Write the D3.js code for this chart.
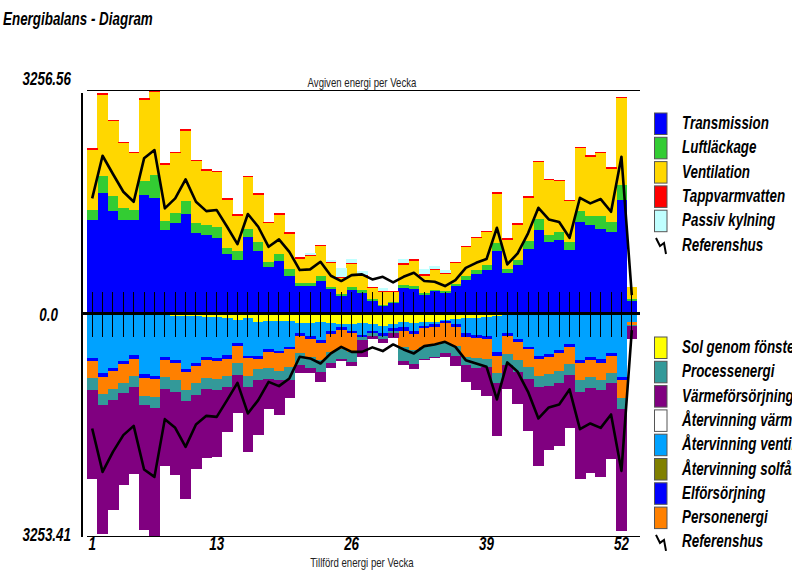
<!DOCTYPE html>
<html><head><meta charset="utf-8">
<script src="https://cdn.jsdelivr.net/npm/d3@7/dist/d3.min.js"></script>
<style>body{margin:0;background:#fff}svg{display:block}</style>
</head><body><svg id="c" width="801" height="575"></svg>
<script>
// ---------- DATA ----------
const weeks = d3.range(1, 54);
const tickWeeks = [1, 13, 26, 39, 52];
const yTop = 3256.56, yBottom = -3253.41;

// Avgiven energi (upward)
const transmission = [1362,1751,1493,1362,1362,1727,1687,1217,1323,1450,1177,1144,1104,863,779,1119,915,682,765,546,405,405,474,357,259,342,303,186,114,157,376,357,270,328,303,405,488,576,634,911,594,707,940,1217,1046,1071,925,1338,1289,1231,1192,1654,186];
const luftlackage = [146,252,219,179,146,208,331,131,146,189,146,150,160,96,131,112,122,68,102,102,44,44,73,34,29,44,39,25,10,15,39,44,25,15,25,20,58,58,73,112,54,73,117,160,98,117,121,156,131,189,146,219,20];
const ventilation = [879,1185,1087,937,825,1181,1204,821,864,1025,894,787,792,700,515,757,694,567,573,515,350,384,432,344,228,334,199,159,188,140,296,369,257,286,242,305,417,461,475,723,427,515,631,825,796,738,588,912,864,912,773,1262,184];
const tappvarmvatten = [20,20,20,20,20,20,20,20,20,20,20,20,20,20,20,20,20,20,20,20,20,20,20,20,20,20,20,20,20,20,20,20,20,20,20,20,20,20,20,20,20,20,20,20,20,20,20,20,20,20,20,20,0];
const passivKylning = [0,0,0,0,0,0,0,0,0,0,0,0,0,0,0,0,0,0,0,0,0,25,0,25,122,54,58,0,35,0,63,0,77,44,44,0,0,0,0,0,0,0,0,0,0,0,0,0,0,0,0,0,0];
const referensUp = [1678,2299,2033,1775,1629,2261,2382,1533,1678,1955,1629,1493,1508,1265,1013,1450,1265,973,1081,900,634,644,755,551,474,561,571,498,536,455,536,594,474,463,401,488,667,740,794,1250,717,877,1169,1541,1372,1333,1104,1687,1606,1668,1483,2285,270];

// Tillförd energi (downward)
const solGenomFonster = [7,7,7,7,7,7,7,7,29,29,36,44,44,58,87,58,117,102,102,102,131,131,117,131,146,146,131,146,175,146,117,131,117,117,87,73,58,58,44,29,7,7,7,7,7,7,7,7,7,7,7,7,7];
const atervinningVent = [645,855,782,685,597,874,903,631,648,779,689,594,609,546,347,561,503,420,444,382,157,197,270,124,47,109,182,105,105,61,76,124,61,41,17,80,230,255,284,527,272,364,476,612,583,525,437,670,631,660,573,922,112];
const elforsorjning = [39,58,44,44,58,54,44,39,44,39,39,39,39,58,39,34,34,35,34,38,39,44,39,48,48,34,34,38,44,44,58,48,38,35,38,39,50,39,44,58,44,39,38,39,39,48,39,39,39,50,39,39,0];
const personenergi = [252,252,267,272,248,262,267,252,248,267,252,267,262,248,243,258,146,242,258,254,252,258,252,254,281,277,0,0,0,0,233,229,268,267,287,281,291,300,291,248,267,267,254,248,252,258,252,252,252,252,252,267,48];
const processenergi = [170,160,160,154,165,136,152,175,170,156,170,160,160,165,179,165,160,160,131,184,170,169,170,169,146,137,39,39,48,30,208,204,184,170,146,146,121,146,121,154,160,170,179,169,175,179,160,170,160,146,146,156,15];
const varmeforsorjning = [1297,1880,1593,1336,1263,1821,1869,1113,1214,1432,1078,1005,972,656,558,938,812,423,510,268,112,64,146,64,15,58,243,48,63,73,58,73,10,23,54,146,243,316,414,763,354,471,753,1142,932,914,768,1272,1238,1263,1103,1773,189];
const atervinningVarme = [0,0,0,0,0,0,0,0,0,0,0,0,0,0,0,0,0,0,0,0,0,0,0,0,0,0,0,0,0,0,0,0,0,0,0,0,0,0,0,0,0,0,0,0,0,0,0,0,0,0,0,0,0];
const atervinningSolf = [0,0,0,0,0,0,0,0,0,0,0,0,0,0,0,0,0,0,0,0,0,0,0,0,0,0,0,0,0,0,0,0,0,0,0,0,0,0,0,0,0,0,0,0,0,0,0,0,0,0,0,0,0];
const referensDown = [1673,2305,2014,1770,1635,2270,2378,1537,1664,1941,1614,1489,1504,1260,1008,1454,1260,994,1056,944,629,653,726,580,484,557,557,492,546,449,522,580,474,449,411,484,678,726,775,1250,711,848,1139,1527,1367,1323,1104,1683,1600,1664,1469,2290,240];

// series definitions (legend order) + stack order
const upSeries = [
  {key:"Transmission", vals:transmission, color:"#0000FF"},
  {key:"Luftläckage", vals:luftlackage, color:"#33CC33"},
  {key:"Ventilation", vals:ventilation, color:"#FFD700"},
  {key:"Tappvarmvatten", vals:tappvarmvatten, color:"#FF0000"},
  {key:"Passiv kylning", vals:passivKylning, color:"#C0FFFF"}
];
const downLegend = [
  {key:"Sol genom fönster", vals:solGenomFonster, color:"#FFFF00"},
  {key:"Processenergi", vals:processenergi, color:"#339999"},
  {key:"Värmeförsörjning", vals:varmeforsorjning, color:"#800080"},
  {key:"Återvinning värmepump", vals:atervinningVarme, color:"#FFFFFF"},
  {key:"Återvinning ventilation", vals:atervinningVent, color:"#00A2FF"},
  {key:"Återvinning solfångare", vals:atervinningSolf, color:"#808000"},
  {key:"Elförsörjning", vals:elforsorjning, color:"#0000FF"},
  {key:"Personenergi", vals:personenergi, color:"#FF8000"}
];
const downStackOrder = ["Sol genom fönster","Återvinning ventilation","Elförsörjning","Personenergi","Processenergi","Värmeförsörjning","Återvinning värmepump","Återvinning solfångare"];

// ---------- DRAW ----------
const svg = d3.select("#c");
const FB = '"Liberation Sans Narrow","Arial Narrow","Liberation Sans",Arial,sans-serif';

const x = d3.scaleBand().domain(weeks).range([87, 637]).padding(0);
const y = d3.scaleLinear().domain([yBottom, yTop]).range([537, 90]);
const bw = x.bandwidth();
const y0 = y(0);

// text scale factors (measure condensed look)
function measure(txt, size, weight, style){
  const t = svg.append("text").attr("font-family",FB).attr("font-size",size)
    .attr("font-weight",weight).attr("font-style",style).text(txt);
  const w = t.node().getComputedTextLength(); t.remove(); return w;
}
const sB = 87 / measure("Transmission", 19, "bold", "italic");
const sN = 109 / measure("Avgiven energi per Vecka", 13, "normal", "normal");
function label(parent, txt, px, py, anchor, bold, fill){
  const g = parent.append("g").attr("transform", `translate(${px},${py}) scale(${bold?sB:sN},1)`);
  return g.append("text").attr("text-anchor", anchor)
    .attr("font-family", FB).attr("font-size", bold?19:13)
    .attr("font-weight", bold?"bold":"normal").attr("font-style", bold?"italic":"normal")
    .attr("fill", fill || (bold?"#000":"#222")).text(txt);
}

// rows
const rowsUp = weeks.map((w,i)=>{const r={week:w}; upSeries.forEach(s=>r[s.key]=s.vals[i]); return r;});
const rowsDown = weeks.map((w,i)=>{const r={week:w}; downLegend.forEach(s=>r[s.key]=s.vals[i]); return r;});
const stUp = d3.stack().keys(upSeries.map(s=>s.key))(rowsUp);
const stDown = d3.stack().keys(downStackOrder)(rowsDown);
const colorOf = {}; upSeries.forEach(s=>colorOf["u"+s.key]=s.color); downLegend.forEach(s=>colorOf["d"+s.key]=s.color);

const bars = svg.append("g").attr("shape-rendering","crispEdges");
bars.selectAll("g.up").data(stUp).join("g").attr("fill", d=>colorOf["u"+d.key])
  .selectAll("rect").data(d=>d).join("rect")
  .attr("x", d=>x(d.data.week)).attr("width", bw+0.4)
  .attr("y", d=>y(d[1])).attr("height", d=>Math.max(0, y(d[0])-y(d[1])));
bars.selectAll("g.dn").data(stDown).join("g").attr("fill", d=>colorOf["d"+d.key])
  .selectAll("rect").data(d=>d).join("rect")
  .attr("x", d=>x(d.data.week)).attr("width", bw+0.4)
  .attr("y", d=>y(-d[0])).attr("height", d=>Math.max(0, y(-d[1])-y(-d[0])));

// frame lines
svg.append("line").attr("x1",87).attr("x2",640).attr("y1",90.5).attr("y2",90.5).attr("stroke","#000").attr("stroke-width",1);
svg.append("line").attr("x1",87).attr("x2",640).attr("y1",536.5).attr("y2",536.5).attr("stroke","#000").attr("stroke-width",1);
svg.append("line").attr("x1",82).attr("x2",82).attr("y1",93).attr("y2",537).attr("stroke","#000").attr("stroke-width",2);

// week ticks crossing zero line
const tickAxis = d3.axisBottom(x).tickSize(45).tickFormat("");
const tg = svg.append("g").attr("transform",`translate(0,${y0-22})`).call(tickAxis);
tg.select(".domain").remove();
tg.selectAll(".tick line").attr("stroke","#000").attr("stroke-width",1).attr("shape-rendering","crispEdges");

// zero line
svg.append("line").attr("x1",82).attr("x2",640).attr("y1",y0).attr("y2",y0).attr("stroke","#000").attr("stroke-width",3);

// reference lines
const lineUp = d3.line().x((d,i)=>x(weeks[i])+bw/2).y(d=>y(d));
const lineDn = d3.line().x((d,i)=>x(weeks[i])+bw/2).y(d=>y(-d));
svg.append("path").attr("d", lineUp(referensUp)).attr("fill","none").attr("stroke","#000").attr("stroke-width",2.6).attr("stroke-linejoin","round");
svg.append("path").attr("d", lineDn(referensDown)).attr("fill","none").attr("stroke","#000").attr("stroke-width",2.6).attr("stroke-linejoin","round");

// texts
label(svg, "Energibalans - Diagram", 3, 25, "start", true);
label(svg, d3.format(".2f")(yTop), 71, 85, "end", true);
label(svg, "0.0", 58, 321, "end", true);
label(svg, d3.format(".2f")(-yBottom), 71, 541, "end", true);
label(svg, "Avgiven energi per Vecka", 362, 87, "middle", false);
label(svg, "Tillförd energi per Vecka", 362, 567, "middle", false);
tickWeeks.forEach(w=> label(svg, String(w), x(w)+bw/2, 550, "middle", true));

// legends
svg.append("defs").append("clipPath").attr("id","clipL").append("rect").attr("x",0).attr("y",0).attr("width",792).attr("height",575);
const leg = svg.append("g").attr("clip-path","url(#clipL)");
function legendBlock(items, top){
  items.forEach((s,i)=>{
    const ty = top + i*24.3;
    leg.append("rect").attr("x",654.5).attr("y",ty+0.5).attr("width",12.5).attr("height",21.5)
      .attr("fill",s.color).attr("stroke","#555").attr("stroke-width",1);
    label(leg, s.key, 682, ty+16.5, "start", true);
  });
  const ty = top + items.length*24.3;
  leg.append("path").attr("d",`M656,${ty+4} L660,${ty+12} L664,${ty+9} L666,${ty+20}`)
    .attr("fill","none").attr("stroke","#000").attr("stroke-width",2);
  label(leg, "Referenshus", 682, ty+16.5, "start", true);
}
legendBlock(upSeries, 112.5);
legendBlock(downLegend, 336.5);
</script></body></html>
